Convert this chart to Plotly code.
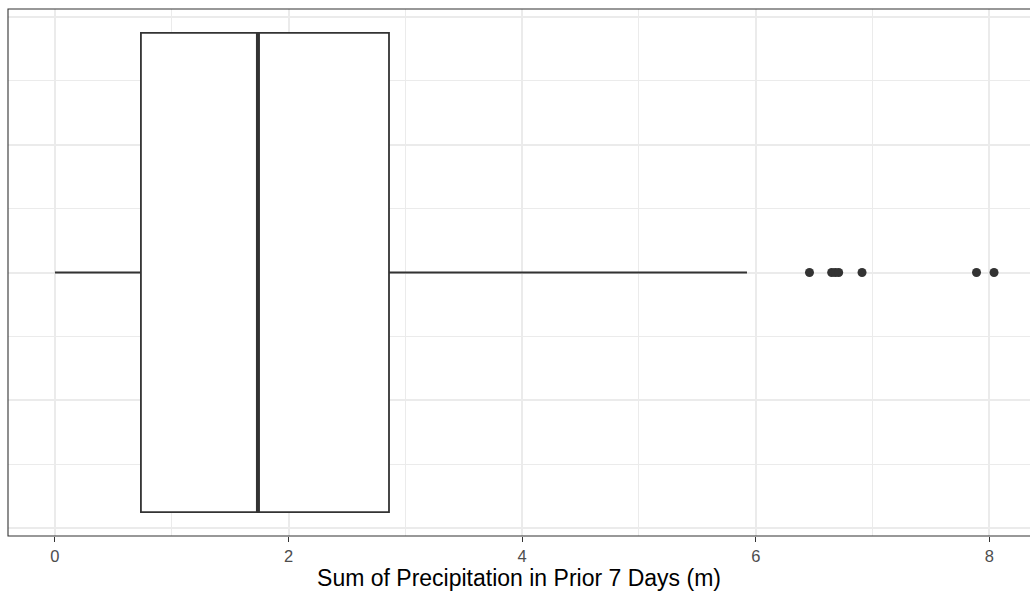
import plotly.graph_objects as go

# Summary statistics of 7-day precipitation totals (m)
q1 = [0.736]
median = [1.738]
q3 = [2.86]
lower_whisker = [0.0]
upper_whisker = [5.925]
outliers = [6.46, 6.65, 6.68, 6.71, 6.91, 7.89, 8.04]

x_ticks = [0, 2, 4, 6, 8]
x_tick_labels = ["0", "2", "4", "6", "8"]

BOX_HALF = 0.375
DARK = "#333333"
GRID = "#EBEBEB"
FONT = "Liberation Sans, Arial, sans-serif"

fig = go.Figure()

fig.add_trace(go.Box(
    y=[0],
    q1=q1, median=median, q3=q3,
    lowerfence=lower_whisker, upperfence=upper_whisker,
    orientation="h",
    width=2 * BOX_HALF,
    whiskerwidth=0,
    fillcolor="white",
    line=dict(color=DARK, width=1.8),
    boxpoints=False,
    showlegend=False,
    hoverinfo="skip",
))

# thicker median bar
fig.add_trace(go.Scatter(
    x=[median[0], median[0]], y=[-BOX_HALF, BOX_HALF],
    mode="lines", line=dict(color=DARK, width=4),
    showlegend=False, hoverinfo="skip",
))

# outlying points
fig.add_trace(go.Scatter(
    x=outliers, y=[0] * len(outliers),
    mode="markers", marker=dict(color=DARK, size=9, line=dict(width=0)),
    showlegend=False, hoverinfo="skip",
))

# the panel runs past the right edge of the figure: 116.8 px per unit
lo = -0.402
px_per_unit = 116.8
panel_px = 1030 - 8
x_range = [lo, lo + panel_px / px_per_unit]

fig.update_layout(
    width=1030, height=594,
    margin=dict(l=8, r=0, t=9, b=58),
    paper_bgcolor="white", plot_bgcolor="white",
    font=dict(family=FONT, color="#4D4D4D"),
    xaxis=dict(
        range=x_range,
        tickvals=x_ticks, ticktext=x_tick_labels,
        tickfont=dict(size=16.5, color="#4D4D4D", family=FONT),
        ticks="outside", ticklen=5, tickwidth=1.1, tickcolor=DARK,
        showgrid=True, gridcolor=GRID, gridwidth=1.5,
        minor=dict(tickvals=[1, 3, 5, 7], showgrid=True, gridcolor=GRID, gridwidth=0.8, ticks=""),
        zeroline=False, showline=False,
        title=dict(text="Sum of Precipitation in Prior 7 Days (m)",
                   font=dict(size=23, color="black", family=FONT), standoff=2),
    ),
    yaxis=dict(
        range=[-0.4125, 0.4125],
        tickvals=[-0.4, -0.2, 0, 0.2, 0.4],
        showticklabels=False, ticks="",
        showgrid=True, gridcolor=GRID, gridwidth=1.5,
        minor=dict(tickvals=[-0.3, -0.1, 0.1, 0.3], showgrid=True, gridcolor=GRID, gridwidth=0.8, ticks=""),
        zeroline=False, showline=False,
    ),
)

# panel border
fig.add_shape(type="rect", xref="paper", yref="paper",
              x0=0, x1=1.02, y0=0, y1=1,
              line=dict(color=DARK, width=1.1), fillcolor="rgba(0,0,0,0)", layer="above")

fig.write_html("out.html")
